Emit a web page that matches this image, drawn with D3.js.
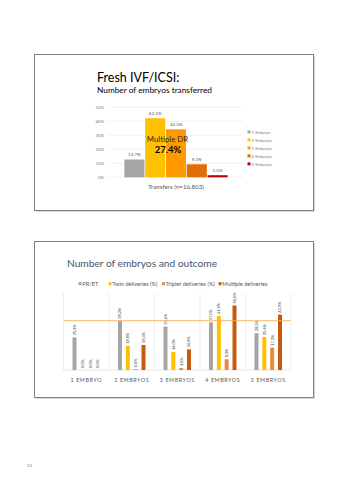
<!DOCTYPE html>
<html><head><meta charset="utf-8">
<script src="https://cdn.jsdelivr.net/npm/d3@7"></script>
<style>html,body{margin:0;padding:0;background:#fff;}svg{display:block;font-family:Lato,"Open Sans",sans-serif;}</style>
</head><body>
<svg id="c" width="340" height="481"></svg>
<script>
// ---- Slide 1 data ----
const s1Category = ["Transfers (n=16,803)"];
const s1Series = ["1 Embryo","2 Embryos","3 Embryos","4 Embryos","5 Embryos"];
const s1Values = [12.7, 42.2, 34.3, 9.3, 1.5];
const s1Labels = ["12,7%","42,2%","34,3%","9,3%","1,5%"];
const s1Colors = ["#A5A5A5","#FFC000","#FF9A00","#E26B0A","#C00000"];
const s1Ticks = [0,10,20,30,40,50];

// ---- Slide 2 data ----
const s2Categories = ["1 EMBRYO","2 EMBRYOS","3 EMBRYOS","4 EMBRYOS","5 EMBRYOS"];
const s2Series = ["PR/ET","Twin deliveries (%)","Triplet deliveries (%)","Multiple deliveries"];
const s2Colors = ["#A5A5A5","#FFC000","#EE8640","#C55A11"];
const prEt     = [25.3, 38.2, 33.6, 37.0, 28.5];
const twin     = [0.0, 18.8, 14.0, 41.9, 25.6];
const triplet  = [0.0, 0.6, 1.5, 8.3, 17.3];
const multiple = [0.0, 19.4, 16.0, 50.0, 42.9];
const s2Line = 38.2;

const svg = d3.select("#c");
svg.append("rect").attr("width",340).attr("height",481).attr("fill","#fff");

function slideFrame(x0,y0,x1,y1){
  svg.append("rect").attr("x",x0+1.5).attr("y",y0+1.5).attr("width",x1-x0).attr("height",y1-y0).attr("fill","#d9d9d9");
  svg.append("rect").attr("x",x0).attr("y",y0).attr("width",x1-x0).attr("height",y1-y0).attr("fill","#fff").attr("stroke","#7f7f7f").attr("stroke-width",1);
}

// ---------- Slide 1 ----------
slideFrame(34.5,54.5,313.5,210.5);
svg.append("text").attr("x",97).attr("y",82).attr("font-size",12.5).attr("fill","#000").text("Fresh IVF/ICSI:");
svg.append("text").attr("x",97).attr("y",92.5).attr("font-size",8.3).attr("fill","#000").text("Number of embryos transferred");

const y1 = d3.scaleLinear().domain([0,50]).range([177.3,107.3]);
const x1o = d3.scaleBand().domain(s1Category).range([109,243]).paddingOuter(0.149).paddingInner(0);
const x1i = d3.scaleBand().domain(s1Series).range([0,x1o.bandwidth()]).paddingInner(0.035);

const g1 = svg.append("g");
g1.selectAll("line.grid").data(s1Ticks).join("line")
  .attr("x1",109).attr("x2",243).attr("y1",d=>y1(d)).attr("y2",d=>y1(d))
  .attr("stroke","#e6e6e6").attr("stroke-width",0.6);
g1.selectAll("text.tick").data(s1Ticks).join("text")
  .attr("x",104).attr("y",d=>y1(d)+1.5).attr("text-anchor","end")
  .attr("font-size",4.3).attr("fill","#808080").text(d=>d+"%");

const cat1 = s1Category[0];
g1.selectAll("rect.bar").data(s1Values).join("rect")
  .attr("x",(d,i)=>x1o(cat1)+x1i(s1Series[i]))
  .attr("width",x1i.bandwidth())
  .attr("y",d=>y1(d)).attr("height",d=>y1(0)-y1(d))
  .attr("fill",(d,i)=>s1Colors[i]);
g1.selectAll("text.vl").data(s1Values).join("text")
  .attr("x",(d,i)=>x1o(cat1)+x1i(s1Series[i])+x1i.bandwidth()/2)
  .attr("y",d=>y1(d)-3.5).attr("text-anchor","middle")
  .attr("font-size",4.6).attr("fill","#595959").text((d,i)=>s1Labels[i]);

svg.append("text").attr("x",167.5).attr("y",142).attr("text-anchor","middle").attr("font-size",7.8).attr("fill","#262626").text("Multiple DR");
svg.append("text").attr("x",168).attr("y",153.3).attr("text-anchor","middle").attr("font-size",9.5).attr("font-weight","bold").attr("fill","#000").text("27.4%");
svg.append("text").attr("x",x1o(cat1)+x1o.bandwidth()/2).attr("y",189).attr("text-anchor","middle").attr("font-size",6.2).attr("fill","#595959").text(s1Category[0]);

const leg1 = svg.append("g");
s1Series.forEach((s,i)=>{
  const yy = 132 + i*8;
  leg1.append("rect").attr("x",247.5).attr("y",yy-1.6).attr("width",3).attr("height",3).attr("fill",s1Colors[i]);
  leg1.append("text").attr("x",251.5).attr("y",yy+1.5).attr("font-size",4.4).attr("fill","#808080").text(s);
});

// ---------- Slide 2 ----------
slideFrame(34.5,241.5,313.5,397.5);
svg.append("text").attr("x",67).attr("y",267).attr("font-size",10.2).attr("fill","#44546A").text("Number of embryos and outcome");

const y2 = d3.scaleLinear().domain([0,60]).range([370,292.6]);
const x2o = d3.scaleBand().domain(s2Categories).range([63.5,291]);
const x2i = d3.scaleBand().domain(s2Series).range([9,x2o.bandwidth()-9]).paddingInner(0.49).paddingOuter(0);

const g2 = svg.append("g");
const bounds = s2Categories.map(c=>x2o(c)).concat([291]);
g2.selectAll("line.vg").data(bounds).join("line")
  .attr("x1",d=>d).attr("x2",d=>d).attr("y1",293).attr("y2",370)
  .attr("stroke","#e3e3e3").attr("stroke-width",0.6);
g2.append("line").attr("x1",63.5).attr("x2",291).attr("y1",370).attr("y2",370).attr("stroke","#d9d9d9").attr("stroke-width",0.6);

const series2 = [prEt, twin, triplet, multiple];
series2.forEach((vals,si)=>{
  const gs = g2.append("g");
  gs.selectAll("rect").data(vals).join("rect")
    .attr("x",(d,ci)=>x2o(s2Categories[ci])+x2i(s2Series[si]))
    .attr("width",x2i.bandwidth())
    .attr("y",d=>y2(d)).attr("height",d=>y2(0)-y2(d))
    .attr("fill",s2Colors[si]);
  gs.selectAll("text").data(vals).join("text")
    .attr("transform",(d,ci)=>{
      const cx = x2o(s2Categories[ci])+x2i(s2Series[si])+x2i.bandwidth()/2+1.4;
      return `translate(${cx},${y2(d)-2}) rotate(-90)`;
    })
    .attr("font-size",3.9).attr("fill","#404040")
    .text(d=>d.toFixed(1).replace(".",",")+"%");
});

g2.append("line").attr("x1",63.5).attr("x2",291).attr("y1",y2(s2Line)).attr("y2",y2(s2Line))
  .attr("stroke","#F9AE5B").attr("stroke-width",0.9);

g2.selectAll("text.cat").data(s2Categories).join("text")
  .attr("x",d=>x2o(d)+x2o.bandwidth()/2).attr("y",382)
  .attr("text-anchor","middle").attr("font-size",5.4).attr("letter-spacing",0.6)
  .attr("fill","#595959").text(d=>d);

// legend slide 2
const legX = [78.5,108.5,162,218.5];
s2Series.forEach((s,i)=>{
  svg.append("rect").attr("x",legX[i]).attr("y",282.2).attr("width",3).attr("height",3).attr("fill",s2Colors[i]);
  svg.append("text").attr("x",legX[i]+3.8).attr("y",285.6).attr("font-size",5.6).attr("fill","#595959").text(s);
});

// page number
svg.append("text").attr("x",27).attr("y",466.5).attr("font-size",4.5).attr("fill","#808080").text("12");
</script>
</body></html>
